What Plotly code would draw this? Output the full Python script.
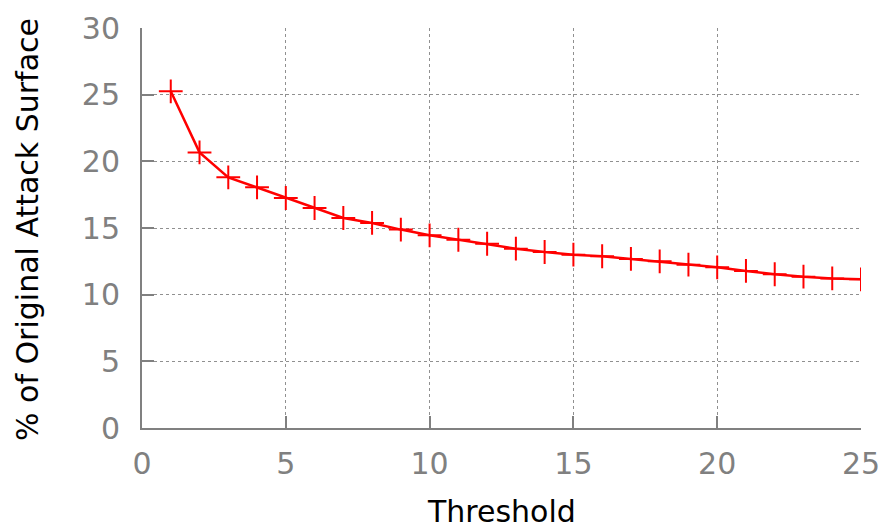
import plotly.graph_objects as go

threshold = list(range(1, 26))
attack_surface_pct = [25.25, 20.67, 18.8, 18.05, 17.25, 16.5, 15.75, 15.38, 14.88, 14.45,
                      14.12, 13.82, 13.45, 13.2, 13.0, 12.88, 12.68, 12.5, 12.25, 12.05,
                      11.78, 11.53, 11.35, 11.22, 11.15]
x_ticks = [0, 5, 10, 15, 20, 25]
y_ticks = [0, 5, 10, 15, 20, 25, 30]

fig = go.Figure()
fig.add_trace(go.Scatter(
    x=threshold, y=attack_surface_pct, mode="lines+markers",
    line=dict(color="#ff0000", width=2.5),
    marker=dict(symbol="cross-thin", size=17, color="#ff0000",
                line=dict(color="#ff0000", width=2)),
    showlegend=False,
))

axis_common = dict(
    showline=True, linecolor="#808080", linewidth=2,
    ticks="inside", ticklen=12, tickwidth=2, tickcolor="#808080",
    showgrid=True, gridcolor="#909090", gridwidth=1, griddash="dot",
    zeroline=False, mirror=False, automargin=False,
    tickfont=dict(family="DejaVu Sans", size=30, color="#808080"),
)

fig.update_xaxes(range=[0, 25], tickvals=x_ticks, ticklabelstandoff=8, **axis_common)
fig.update_yaxes(range=[0, 30], tickvals=y_ticks, ticklabelstandoff=14, **axis_common)

fig.add_annotation(
    text="Threshold",
    xref="paper", yref="paper", x=0.5, y=(428 - 511) / 400,
    xanchor="center", yanchor="middle", showarrow=False,
    font=dict(family="DejaVu Sans", size=30, color="#000000"),
)
fig.add_annotation(
    text="% of Original Attack Surface", textangle=-90,
    xref="paper", yref="paper", x=(27 - 142) / 719, y=0.495,
    xanchor="center", yanchor="middle", showarrow=False,
    font=dict(family="DejaVu Sans", size=30, color="#000000"),
)

fig.update_layout(
    width=887, height=529,
    margin=dict(l=142, r=26, t=28, b=101),
    plot_bgcolor="white", paper_bgcolor="white",
)

fig.write_html("out.html")
